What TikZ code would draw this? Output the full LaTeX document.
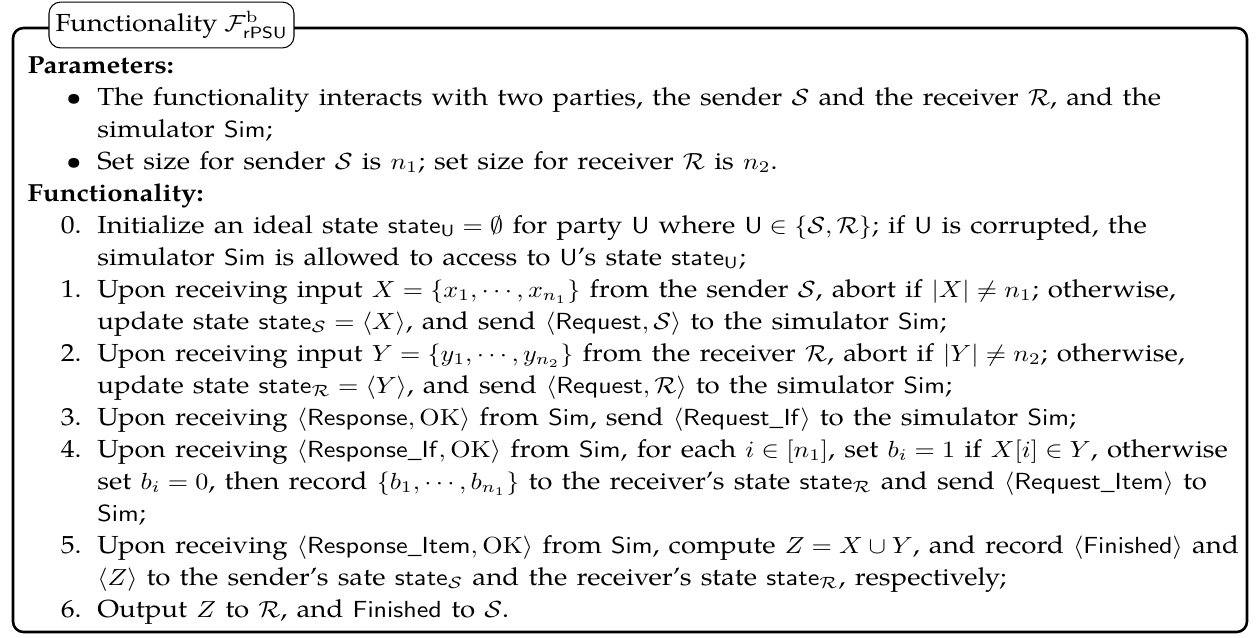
\documentclass[tikz,border=0pt]{standalone}
\usepackage[no-math]{fontspec}
\setmainfont{TeX Gyre Pagella}[Scale=1.111]
\newcommand\itm[2]{{\leftskip=26.8pt\noindent\llap{#1\hspace{6.1pt}}#2\par}}
\tikzset{
  frame/.style={draw, line width=1.1pt, rounded corners=4.5pt, inner sep=0pt},
  titlebox/.style={draw, line width=0.45pt, rounded corners=5pt, fill=white, inner sep=0pt,
    minimum width=93.9pt, minimum height=19.7pt, font=\fontsize{9.54}{12}\selectfont,
    xscale=1.12, transform shape},
  body/.style={anchor=north west, inner sep=0pt, text width=500pt, align=left,
    font=\fontsize{9.54}{13.73}\selectfont, xscale=1.12, transform shape}
}
\begin{document}
\begin{tikzpicture}[x=0.4292pt,y=-0.4292pt]
\useasboundingbox (0,0) rectangle (1260,637);
\draw[frame] (13,28) rectangle (1247,632);
\node[titlebox] (title) at (171.5,25) {Functionality $\mathcal{F}^{\mathrm{b}}_{\mathsf{rPSU}}$};
\node[body] (text) at (27,50.6) {\strut\textbf{Parameters:}\par
\itm{\textbullet}{The functionality interacts with two parties, the sender $\mathcal{S}$ and the receiver $\mathcal{R}$, and the\newline simulator $\mathsf{Sim}$;}
\itm{\textbullet}{Set size for sender $\mathcal{S}$ is $n_1$; set size for receiver $\mathcal{R}$ is $n_2$.}
\textbf{Functionality:}\par
\itm{0.}{Initialize an ideal state $\mathsf{state}_{\mathsf{U}}=\emptyset$ for party $\mathsf{U}$ where $\mathsf{U}\in\{\mathcal{S},\mathcal{R}\}$; if $\mathsf{U}$ is corrupted, the\newline simulator $\mathsf{Sim}$ is allowed to access to $\mathsf{U}$'s state $\mathsf{state}_{\mathsf{U}}$;}
\itm{1.}{Upon receiving input $X=\{x_1,\cdots,x_{n_1}\}$ from the sender $\mathcal{S}$, abort if $|X|\neq n_1$; otherwise,\newline update state $\mathsf{state}_{\mathcal{S}}=\langle X\rangle$, and send $\langle\mathsf{Request},\mathcal{S}\rangle$ to the simulator $\mathsf{Sim}$;}
\itm{2.}{Upon receiving input $Y=\{y_1,\cdots,y_{n_2}\}$ from the receiver $\mathcal{R}$, abort if $|Y|\neq n_2$; otherwise,\newline update state $\mathsf{state}_{\mathcal{R}}=\langle Y\rangle$, and send $\langle\mathsf{Request},\mathcal{R}\rangle$ to the simulator $\mathsf{Sim}$;}
\itm{3.}{Upon receiving $\langle\mathsf{Response},\mathrm{OK}\rangle$ from $\mathsf{Sim}$, send $\langle\mathsf{Request\_If}\rangle$ to the simulator $\mathsf{Sim}$;}
\itm{4.}{Upon receiving $\langle\mathsf{Response\_If},\mathrm{OK}\rangle$ from $\mathsf{Sim}$, for each $i\in[n_1]$, set $b_i=1$ if $X[i]\in Y$, otherwise\newline set $b_i=0$, then record $\{b_1,\cdots,b_{n_1}\}$ to the receiver's state $\mathsf{state}_{\mathcal{R}}$ and send $\langle\mathsf{Request\_Item}\rangle$ to\newline $\mathsf{Sim}$;}
\itm{5.}{Upon receiving $\langle\mathsf{Response\_Item},\mathrm{OK}\rangle$ from $\mathsf{Sim}$, compute $Z=X\cup Y$, and record $\langle\mathsf{Finished}\rangle$ and\newline $\langle Z\rangle$ to the sender's sate $\mathsf{state}_{\mathcal{S}}$ and the receiver's state $\mathsf{state}_{\mathcal{R}}$, respectively;}
\itm{6.}{Output $Z$ to $\mathcal{R}$, and $\mathsf{Finished}$ to $\mathcal{S}$.}
};
\end{tikzpicture}
\end{document}
